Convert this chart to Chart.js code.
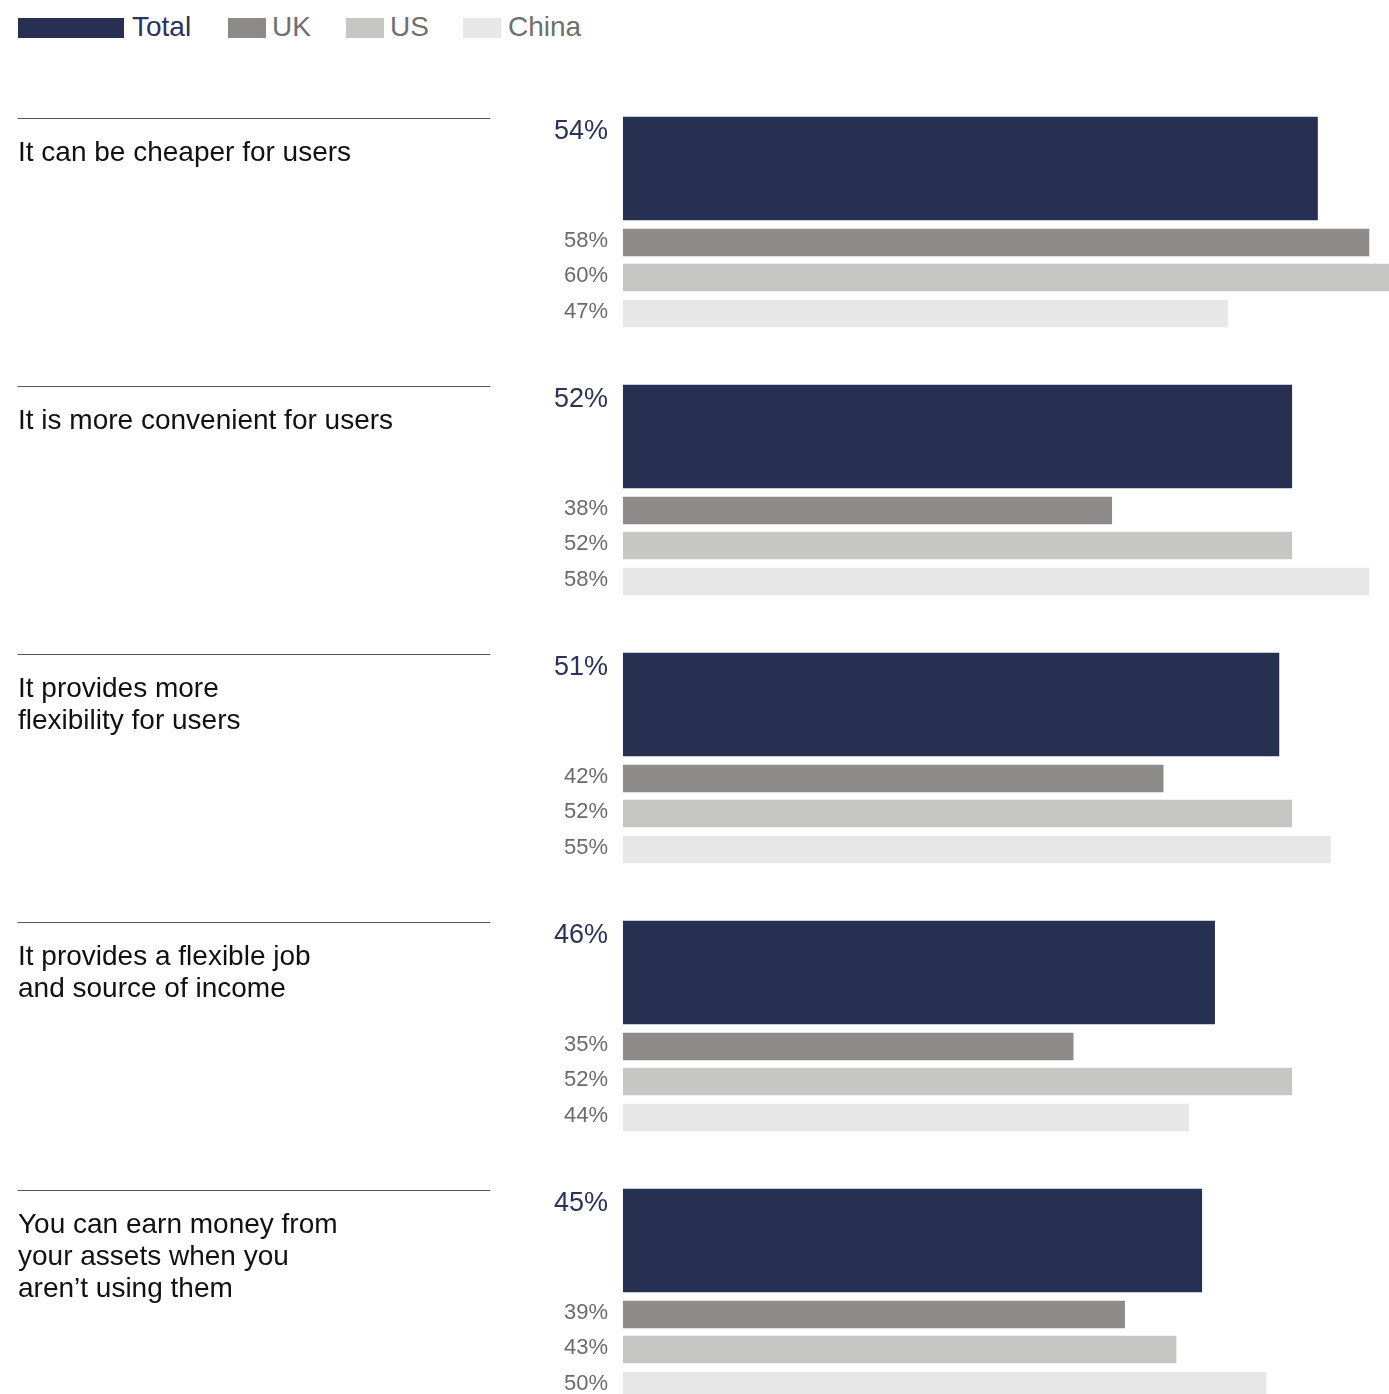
<!DOCTYPE html>
<html>
<head>
<meta charset="utf-8">
<script src="https://cdn.jsdelivr.net/npm/chart.js@4.4.1/dist/chart.umd.min.js"></script>
<style>
    html, body { margin: 0; padding: 0; background: #fff; }
    body {
        width: 1389px;
        height: 1394px;
        position: relative;
        overflow: hidden;
        font-family: "Liberation Sans", Arial, sans-serif;
    }
    #chart { position: absolute; left: 0; top: 0; }
    .legend-swatch { position: absolute; top: 18px; height: 20px; }
    .legend-text { position: absolute; top: 12px; font-size: 28px; line-height: 30px; white-space: nowrap; }
</style>
</head>
<body>
<div id="legend"></div>
<canvas id="chart" width="1389" height="1394"></canvas>
<script>
const categories = [
    ['It can be cheaper for users'],
    ['It is more convenient for users'],
    ['It provides more', 'flexibility for users'],
    ['It provides a flexible job', 'and source of income'],
    ['You can earn money from', 'your assets when you', 'aren’t using them'],
];
const seriesNames = ['Total', 'UK', 'US', 'China'];
const totalValues = [54, 52, 51, 46, 45];
const ukValues = [58, 38, 42, 35, 39];
const usValues = [60, 52, 52, 52, 43];
const chinaValues = [47, 58, 55, 44, 50];

// look & layout
const seriesColors = ['#272f53', '#8c8b89', '#c6c6c5', '#e7e7e7'];
const legendTextColors = ['#2b335a', '#6f6f6f', '#6f6f6f', '#6f6f6f'];
const swatchLefts = [18, 228, 346, 463];
const swatchWidths = [106, 38, 38, 38];
const legendTextLefts = [132, 272, 390, 508];
const PLOT_LEFT = 623;
const X_MAX = 59.56;          // right edge of the page, the 60% bar runs off it
const FIRST_TOP = 117;
const GROUP_STEP = 268;
// offset from the group top and thickness of each series' bar
const slots = [
    { offset: 0, thickness: 103 },
    { offset: 112, thickness: 27 },
    { offset: 147, thickness: 27 },
    { offset: 183, thickness: 27 },
];
const FONT = '"Liberation Sans", Arial, sans-serif';

// html legend, the Total swatch is wider than the others
const legendEl = document.getElementById('legend');
seriesNames.forEach((name, i) => {
    const sw = document.createElement('span');
    sw.className = 'legend-swatch';
    sw.style.left = swatchLefts[i] + 'px';
    sw.style.width = swatchWidths[i] + 'px';
    sw.style.background = seriesColors[i];
    const txt = document.createElement('span');
    txt.className = 'legend-text';
    txt.style.left = legendTextLefts[i] + 'px';
    txt.style.color = legendTextColors[i];
    txt.textContent = name;
    legendEl.append(sw, txt);
});

const seriesValues = [totalValues, ukValues, usValues, chinaValues];

const datasets = seriesValues.map((values, s) => ({
    label: seriesNames[s],
    data: values.map((v, g) => ({
        x: v,
        y: FIRST_TOP + g * GROUP_STEP + slots[s].offset + slots[s].thickness / 2,
    })),
    backgroundColor: seriesColors[s],
    borderWidth: 0,
    barThickness: slots[s].thickness,
    grouped: false,
}));

const groupLabels = {
    id: 'groupLabels',
    afterDatasetsDraw(chart) {
        const { ctx } = chart;
        ctx.save();
        ctx.textBaseline = 'alphabetic';

        chart.data.datasets.forEach((ds, s) => {
            const meta = chart.getDatasetMeta(s);
            meta.data.forEach((bar, g) => {
                const { y, height, base } = bar.getProps(['y', 'height', 'base'], true);
                const top = y - height / 2;
                ctx.textAlign = 'right';
                if (s === 0) {
                    ctx.font = `27px ${FONT}`;
                    ctx.fillStyle = '#2b335a';
                    ctx.fillText(ds.data[g].x + '%', base - 15, top + 21.5);

                    // rule + category text sit level with the Total bar
                    ctx.strokeStyle = '#555';
                    ctx.lineWidth = 1;
                    ctx.beginPath();
                    ctx.moveTo(18, Math.round(top) + 1.5);
                    ctx.lineTo(490, Math.round(top) + 1.5);
                    ctx.stroke();

                    ctx.textAlign = 'left';
                    ctx.font = `28px ${FONT}`;
                    ctx.fillStyle = '#111';
                    categories[g].forEach((line, k) => {
                        ctx.fillText(line, 18, top + 44 + k * 32);
                    });
                } else {
                    ctx.font = `22px ${FONT}`;
                    ctx.fillStyle = '#6b6b6b';
                    ctx.fillText(ds.data[g].x + '%', base - 15, top + 18);
                }
            });
        });
        ctx.restore();
    },
};

new Chart(document.getElementById('chart'), {
    type: 'bar',
    data: { datasets },
    options: {
        indexAxis: 'y',
        responsive: false,
        animation: false,
        devicePixelRatio: 1,
        layout: { padding: { left: PLOT_LEFT, right: 0, top: 0, bottom: 0 } },
        plugins: {
            legend: { display: false },
            tooltip: { enabled: false },
        },
        scales: {
            x: { type: 'linear', min: 0, max: X_MAX, display: false },
            y: {
                type: 'linear', min: 0, max: 1394, reverse: true,
                offset: false, grid: { offset: false }, display: false,
            },
        },
    },
    plugins: [groupLabels],
});
</script>
</body>
</html>
